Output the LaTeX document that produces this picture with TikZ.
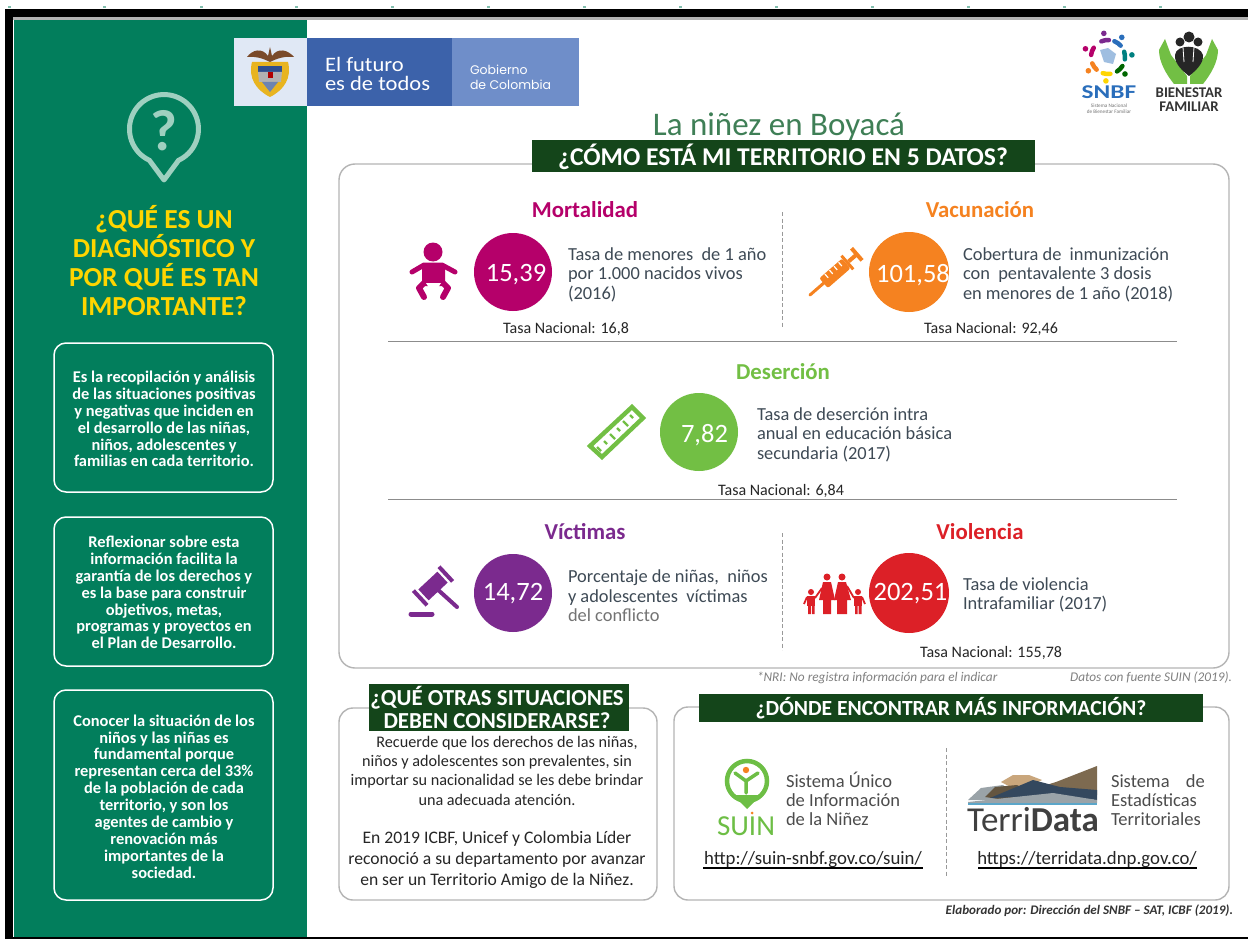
\documentclass[tikz,border=0pt]{standalone}
\usepackage{fontspec}
\setmainfont{Carlito}
\newfontfamily\widef{Poppins}
\usetikzlibrary{calc}
\definecolor{panelgreen}{HTML}{027E5C}
\definecolor{bubblecol}{HTML}{9FD0C0}
\definecolor{yellowt}{HTML}{FFD500}
\definecolor{banner}{HTML}{14451A}
\definecolor{cardline}{HTML}{B4B4B4}
\definecolor{bodyt}{HTML}{3E4A55}
\definecolor{mort}{HTML}{B5006A}
\definecolor{vacu}{HTML}{F58220}
\definecolor{dese}{HTML}{72BF44}
\definecolor{vict}{HTML}{7B2A8E}
\definecolor{viol}{HTML}{DC2027}
\definecolor{titleg}{HTML}{3F7F56}
\definecolor{govlight}{HTML}{E0E8F5}
\definecolor{govdark}{HTML}{3C62AA}
\definecolor{govmid}{HTML}{6F8EC9}
\definecolor{snbfblue}{HTML}{2A6EBB}
\definecolor{suing}{HTML}{6DBE45}
\definecolor{wingbrown}{HTML}{7A4A2A}
\definecolor{shieldy}{HTML}{E8B420}
\definecolor{shieldb}{HTML}{2F4F8F}
\definecolor{mtnbrown}{HTML}{7D6A50}
\definecolor{mtntan}{HTML}{C9A67C}
\definecolor{mtnnavy}{HTML}{34485E}
\definecolor{mtngrey}{HTML}{9AA3A8}
\definecolor{mtnblue}{HTML}{5BA6C9}
\definecolor{darklogo}{HTML}{333333}
\newcommand{\fs}[2]{\fontsize{#1}{#2}\selectfont}
\tikzset{
  x=1pt,y=-1pt,
  every node/.style={inner sep=0pt,outer sep=0pt},
  leftbox/.style={draw=white,line width=1.5pt,rounded corners=12pt},
  lefttxt/.style={text=white,align=center,font=\fs{16.4}{16.9}\bfseries},
  lefttitle/.style={text=yellowt,align=center,font=\fs{27.5}{29}\bfseries},
  card/.style={draw=cardline,line width=1.4pt,fill=white},
  bannerbox/.style={fill=banner},
  bannertxt/.style={text=white,align=center,font=\fs{25.6}{24}\bfseries},
  heading/.style={font=\fs{22.8}{22}\bfseries},
  valcircle/.style={circle,minimum size=78pt},
  valtxt/.style={text=white,font=\fs{26.5}{27}},
  desc/.style={anchor=west,text=bodyt,align=left,font=\fs{18.4}{19.6}},
  tasa/.style={text=black!85,font=\fs{16}{16}},
  sep/.style={draw=black!45,line width=1pt},
  dashsep/.style={draw=black!40,line width=1pt,dash pattern=on 4pt off 2.5pt},
  note/.style={text=black!50,font=\fs{13.3}{14}\itshape},
  small/.style={text=black!85,align=center,font=\fs{16.2}{19.3}},
  link/.style={text=black!85,font=\fs{18.8}{18}},
  linkline/.style={draw=black,line width=2pt},
  sidetxt/.style={desc,text=black!70,font=\fs{18.5}{19}},
}
\begin{document}
\begin{tikzpicture}
\useasboundingbox (0,0) rectangle (1248,939);
\fill[white] (0,0) rectangle (1248,939);
% frame
\foreach \tx in {8,103,200,295,391,487,583,679,775,871,967,1063,1159}
  \fill[panelgreen!50] (\tx,6) rectangle ++(3,2);
\fill[black] (5,9) rectangle (1248,17.5);
\fill[black] (5,9) rectangle (13,939);
\fill[black!30] (13,17.5) rectangle (1248,20);
\fill[black] (5,936.5) rectangle (1248,939);
% left panel
\fill[panelgreen] (14,20) rectangle (307,936.5);
\draw[draw=bubblecol,line width=5pt,line join=round] (149.4,160.3) arc[start angle=115,end angle=425,radius=34.5] -- (164,180) -- cycle;
\node[text=bubblecol,font=\fs{58}{58}\bfseries] (qmark) at (164,131) {?};
\node[lefttitle] (lt) at (164,260.5) {¿QUÉ ES UN\\DIAGNÓSTICO Y\\POR QUÉ ES TAN\\IMPORTANTE?};
\draw[leftbox] (54,343) rectangle (273,492);
\node[lefttxt] (l1) at (164,419) {Es la recopilación y análisis\\de las situaciones positivas\\y negativas que inciden en\\el desarrollo de las niñas,\\niños, adolescentes y\\familias en cada territorio.};
\draw[leftbox] (54,517) rectangle (273,666);
\node[lefttxt] (l2) at (164,592.5) {Reflexionar sobre esta\\información facilita la\\garantía de los derechos y\\es la base para construir\\objetivos, metas,\\programas y proyectos en\\el Plan de Desarrollo.};
\draw[leftbox] (54,690) rectangle (273,900);
\node[lefttxt] (l3) at (164,796.5) {Conocer la situación de los\\niños y las niñas es\\fundamental porque\\representan cerca del 33\%\\de la población de cada\\territorio, y son los\\agentes de cambio y\\renovación más\\importantes de la\\sociedad.};
% government band
\fill[govlight] (234,38.5) rectangle (307,106.5);
\fill[govdark] (307,38.5) rectangle (452,106.5);
\fill[govmid] (452,38.5) rectangle (579,106.5);
% coat of arms
\fill[wingbrown] (247,57) .. controls (252,50) and (262,47) .. (268,56) -- (270,47) -- (272,56) .. controls (278,47) and (288,50) .. (294,57) .. controls (285,56) and (278,58) .. (270,62) .. controls (262,58) and (255,56) .. (247,57) -- cycle;
\fill[shieldy] (252,62) -- (288,62) .. controls (292,78) and (284,90) .. (270,97) .. controls (256,90) and (248,78) .. (252,62) -- cycle;
\fill[shieldb] (258,66) rectangle (282,72);
\fill[black!30] (258,72) -- (282,72) -- (281,82) -- (259,82) -- cycle;
\fill[red!70!black] (268,72) rectangle (273,78);
\fill[shieldb!70] (262,82) -- (278,82) -- (270,92) -- cycle;
\node[text=white,anchor=west,align=left,font=\fs{20.5}{19}] (futuro) at (325,74) {\scalebox{1.1}[1]{El futuro}\\\scalebox{1.1}[1]{es de todos}};
\node[text=white,anchor=west,align=left,font=\fs{12.5}{15}\widef] (gob) at (470,77) {Gobierno\\de Colombia};
% SNBF logo
\foreach \ang/\col in {-100/vict,-55/snbfblue,-5/teal,45/green!40!black,95/yellowt,145/vacu,200/mort}{
  \draw[\col,line width=4.5pt,line cap=round] ($(1108,57)+(\ang-13:17)$) arc[start angle=\ang-13,end angle=\ang+13,radius=17];
  \fill[\col] ($(1108,57)+(\ang:24)$) circle (2.8);
}
\fill[snbfblue!45] (1100,50) -- (1108,48) -- (1116,54) -- (1113,64) -- (1104,62) -- cycle;
\node[text=snbfblue,font=\fs{19.5}{20}\bfseries] (snbf) at (1109,92) {\scalebox{1.3}[1]{SNBF}};
\node[text=black!55,align=center,font=\fs{5.2}{6.2}] (snbfsub) at (1109,109) {Sistema Nacional\\de Bienestar Familiar};
% Bienestar logo
\fill[dese] (1165,39) -- (1171,55) -- (1187,76) -- (1187,84) -- (1174,84) .. controls (1166,74) and (1159,62) .. (1159,50) -- cycle;
\fill[dese] (1212,39) -- (1206,55) -- (1190,76) -- (1190,84) -- (1203,84) .. controls (1211,74) and (1218,62) .. (1218,50) -- cycle;
\fill[black!85] (1175,55) .. controls (1176,44) and (1200,44) .. (1203,55) .. controls (1204,64) and (1194,72) .. (1189,76) .. controls (1184,72) and (1174,64) .. (1175,55) -- cycle;
\fill[black!85] (1189,37) circle (5.5) (1180,42) circle (4.5) (1198,42) circle (4.5);
\draw[white,line width=0.8pt] (1183,47) -- (1184,62) (1194,47) -- (1193,62);
\node[text=darklogo,align=center,font=\fs{14.8}{13.6}\bfseries] (bien) at (1189,99.5) {BIENESTAR\\FAMILIAR};
% title
\node[text=titleg,font=\fs{33}{33}] (title) at (779,127) {La niñez en Boyacá};
% main card
\draw[card,rounded corners=16pt] (339,164) rectangle (1229,668);
\fill[bannerbox] (532,140) rectangle (1035,172);
\node[bannertxt] (ban1) at (783,157) {¿CÓMO ESTÁ MI TERRITORIO EN 5 DATOS?};
\draw[dashsep] (782,212) -- (782,328);
\draw[dashsep] (782,533) -- (782,650);
\draw[sep] (388,341.5) -- (1177,341.5);
\draw[sep] (388,499.5) -- (1177,499.5);
% Mortalidad
\node[heading,text=mort] (h1) at (585,210) {Mortalidad};
\node[valcircle,fill=mort] (c1) at (513,272) {};
\node[valtxt] (v1) at (516,275) {15,39};
\node[desc] (d1) at (568,274.5) {Tasa de menores\ \ de 1 año\\por 1.000 nacidos vivos\\(2016)};
\node[tasa] (t1) at (566,329) {Tasa Nacional: 16,8};
% baby icon
\fill[mort] (433,252) circle (9.5);
\draw[mort,line width=5pt,line cap=round,line join=round] (412,272) -- (424,265) -- (442,265) -- (455,272);
\fill[mort,rounded corners=3pt] (422,263) rectangle (445,286);
\draw[mort,line width=6pt,line cap=round,line join=round] (425,282) -- (419,288) -- (424,297);
\draw[mort,line width=6pt,line cap=round,line join=round] (442,282) -- (448,288) -- (443,297);
\fill[white] (426,283) -- (441,283) -- (436,291) -- (431,291) -- cycle;
% Vacunacion
\node[heading,text=vacu] (h2) at (980,210) {Vacunación};
\node[valcircle,fill=vacu,minimum size=80pt] (c2) at (909,272) {};
\node[valtxt] (v2) at (913,275) {101,58};
\node[desc] (d2) at (963,274.5) {Cobertura de\ \ inmunización\\con\ \ pentavalente 3 dosis\\en menores de 1 año (2018)};
\node[tasa] (t2) at (991,329) {Tasa Nacional: 92,46};
% syringe icon
\begin{scope}[shift={(810,295)},rotate=41]
  \draw[vacu,line width=3pt,line cap=round] (0,0) -- (20,0);
  \fill[vacu,rounded corners=2pt] (18,-6.5) rectangle (48,6.5);
  \draw[white,line width=1.2pt] (25,-6) -- (25,-1) (31,-6) -- (31,-1) (37,-6) -- (37,-1) (43,-6) -- (43,-1);
  \fill[vacu] (48,-9) rectangle (51,9);
  \fill[vacu] (51,-2) rectangle (61,2);
  \fill[vacu] (60,-8) rectangle (64,8);
\end{scope}
% Desercion
\node[heading,text=dese] (h3) at (783,372) {Deserción};
\node[valcircle,fill=dese] (c3) at (699,432) {};
\node[valtxt] (v3) at (704.5,435) {7,82};
\node[desc] (d3) at (757,434.5) {Tasa de deserción intra\\anual en educación básica\\secundaria (2017)};
\node[tasa] (t3) at (781,491) {Tasa Nacional: 6,84};
% ruler icon
\draw[dese,line width=4.4pt,line join=miter] (590,446) -- (632,407) -- (643,418) -- (602,457) -- cycle;
\draw[dese,line width=2.4pt] (597,447) -- (601,451) (604,441) -- (607,444) (610,434) -- (615,439) (617,428) -- (620,431) (623,421) -- (628,426) (630,415) -- (633,418);
% Victimas
\node[heading,text=vict] (h4) at (585,532) {Víctimas};
\node[valcircle,fill=vict] (c4) at (513,593) {};
\node[valtxt] (v4) at (513,594) {14,72};
\node[desc] (d4) at (568,596) {Porcentaje de niñas,\ \ niños\\y adolescentes\ \ víctimas\\{\color{black!55}del conflicto}};
% gavel icon
\draw[vict,line width=5pt,line cap=round] (411,614) -- (432,614);
\draw[vict,line width=4pt,line cap=round] (436,588) -- (457,607);
\begin{scope}[shift={(433,586)},rotate=43]
  \fill[vict] (-13,-7.5) rectangle (13,7.5);
  \fill[vict] (-19.5,-10) rectangle (-15.5,10);
  \fill[vict] (15.5,-10) rectangle (19.5,10);
\end{scope}
% Violencia
\node[heading,text=viol] (h5) at (980,532) {Violencia};
\node[valcircle,fill=viol,minimum size=80pt] (c5) at (909,593) {};
\node[valtxt] (v5) at (910.5,594) {202,51};
\node[desc] (d5) at (963,595) {Tasa de violencia\\Intrafamiliar (2017)};
\node[tasa] (t5) at (991,652.5) {Tasa Nacional: 155,78};
% family icon
\fill[viol] (827,577) circle (3.5) (842,577) circle (3.5) (811,592) circle (3) (858,592) circle (3);
\fill[viol] (823,582) -- (831,582) -- (835,600) -- (831,600) -- (831,614) -- (823,614) -- (823,600) -- (819,600) -- cycle;
\fill[viol] (838,582) -- (846,582) -- (851,600) -- (847,600) -- (847,614) -- (837,614) -- (837,600) -- (834,600) -- cycle;
\fill[viol] (807,596) rectangle (815,606);
\fill[viol] (808,606) rectangle (810.8,614) (811.8,606) rectangle (814.5,614);
\fill[viol] (854,596) rectangle (862,606);
\fill[viol] (855,606) rectangle (857.6,614) (858.6,606) rectangle (861.5,614);
\draw[viol,line width=1.8pt] (815,598) -- (822,588) (847,586) -- (854,598) (804,604) -- (807,597) (862,597) -- (865,604);
% notes
\node[note,anchor=west] (n1) at (757,678) {*NRI: No registra información para el indicar};
\node[note,anchor=east] (n2) at (1232,678) {Datos con fuente SUIN (2019).};
% bottom left card
\draw[card,rounded corners=14pt] (339,708) rectangle (657,900);
\fill[bannerbox] (369,684) rectangle (629,731);
\node[bannertxt,font=\fs{22.9}{23}\bfseries] (ban2) at (497,707) {¿QUÉ OTRAS SITUACIONES\\DEBEN CONSIDERARSE?};
\node[small] (b1) at (497,770.5) {\hspace{20pt}Recuerde que los derechos de las niñas,\\niños y adolescentes son prevalentes, sin\\importar su nacionalidad se les debe brindar\\una adecuada atención.};
\node[small,font=\fs{17.6}{21.3}] (b2) at (497,860) {En 2019 ICBF, Unicef y Colombia Líder\\reconoció a su departamento por avanzar\\en ser un Territorio Amigo de la Niñez.};
% bottom right card
\draw[card,rounded corners=14pt] (674,707) rectangle (1229,900);
\fill[bannerbox] (699,694) rectangle (1203,722);
\node[bannertxt,font=\fs{21.6}{23}\bfseries] (ban3) at (951,708) {¿DÓNDE ENCONTRAR MÁS INFORMACIÓN?};
\draw[dashsep] (946,748) -- (946,876);
% SUIN logo
\fill[suing] (733,795) -- (761,795) -- (747,809) -- cycle;
\draw[suing,line width=4.5pt] (747,781) circle (20);
\fill[vacu] (746,770) circle (3.2);
\draw[suing,line width=3.5pt,line cap=round,line join=round] (735,773) -- (746,781) -- (758,773) (746,781) -- (746,793);
\node[text=suing,font=\fs{29}{29}] (suin) at (746,826) {SUIN};
\fill[vacu] (752,813) circle (1.5);
\node[sidetxt] (s1) at (786,799) {Sistema Único\\de Información\\de la Niñez};
\node[link] (u1) at (813,860) {http://suin-snbf.gov.co/suin/};
\draw[linkline] (703,868) -- (923,868);
% TerriData logo
\fill[mtntan] (1001,782) -- (1013,775) -- (1029,775) -- (1042,780) -- (1020,792) -- cycle;
\fill[mtnbrown] (1030,790) -- (1056,782) -- (1097,766) -- (1097,795) -- (1040,795) -- cycle;
\fill[mtngrey] (968,800) -- (981,788) -- (1003,785) -- (1020,800) -- cycle;
\fill[mtnbrown!80!black] (985,797) -- (995,787) -- (1017,785) -- (1030,792) -- (1005,800) -- cycle;
\fill[mtnnavy] (990,798) -- (1033,780) -- (1060,787) -- (1097,790) -- (1097,800) -- (1050,796) -- cycle;
\fill[mtngrey] (968,802) -- (1053,793) -- (1097,800) -- (1097,803) -- (968,803) -- cycle;
\fill[mtnblue] (968,803) rectangle (1097,805);
\node[text=black!75,font=\fs{35}{35}] (terri) at (1033,820) {Terri\textbf{Data}};
\node[sidetxt] (s2) at (1111,800) {Sistema\hspace{12pt} de\\Estadísticas\\Territoriales};
\node[link] (u2) at (1087,860) {https://terridata.dnp.gov.co/};
\draw[linkline] (978,868) -- (1197,868);
% credit
\node[text=black!80,anchor=east,font=\fs{13.1}{14}\bfseries\itshape] (cred) at (1233,911) {Elaborado por: Dirección del SNBF – SAT, ICBF (2019).};
\end{tikzpicture}
\end{document}
